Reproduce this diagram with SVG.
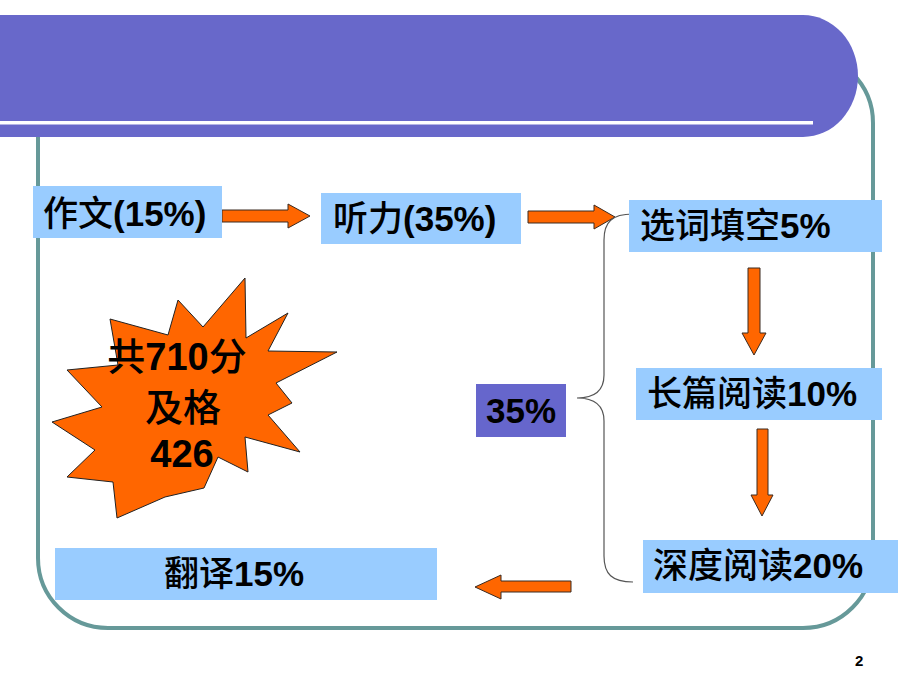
<svg xmlns="http://www.w3.org/2000/svg" width="920" height="690" viewBox="0 0 920 690">
<style>
.box{fill:#99CCFF;}
.pbox{fill:#6666CC;}
.t{font-family:"Liberation Sans","Noto Sans CJK SC",sans-serif;font-weight:bold;font-size:35px;fill:#000;}
.cj{font-family:"Noto Sans CJK SC",sans-serif;font-weight:500;}
.arr{fill:#FF6600;stroke:#3a2a20;stroke-width:1;}
.brace{fill:none;stroke:#555;stroke-width:1.2;}
</style>
<rect width="920" height="690" fill="#fff"/>
<!-- frame -->
<rect id="frame" x="38" y="53" width="835" height="575" rx="70" ry="70" fill="none" stroke="#669999" stroke-width="4"/>
<!-- banner -->
<g id="banner">
<path d="M0,15 H803 A55,61 0 0 1 803,137 H0 Z" fill="#6868CA"/>
<rect x="0" y="121" width="813" height="3.5" fill="#fff"/>
</g>
<g id="connectors">
<polygon class="arr" points="222,210 288,210 288,204 310,216 288,228 288,222 222,222"/>
<polygon class="arr" points="528,211 594,211 594,205 615,217 594,229 594,223 528,223"/>
<polygon class="arr" points="748,268 760,268 760,333 766,333 754,355 742,333 748,333"/>
<polygon class="arr" points="757,429 768,429 768,495 773,495 762,516 751,495 757,495"/>
<polygon class="arr" points="571,581 501,581 501,575 475,587 501,599 501,592 571,592"/>
<path class="brace" d="M633,214 C612,214 604,222 604,240 L604,375 C604,390 596,398 577,398 C596,398 604,406 604,421 L604,556 C604,574 612,582 633,582"/>
</g>
<g id="n-zuowen">
<rect class="box" x="33" y="186" width="189" height="52"/>
<text class="t" x="43" y="226"><tspan class="cj">作文</tspan>(15%)</text>
</g>
<g id="n-tingli">
<rect class="box" x="321" y="193" width="200" height="51"/>
<text class="t" x="333" y="231"><tspan class="cj">听力</tspan>(35%)</text>
</g>
<g id="n-xuanci">
<rect class="box" x="629" y="200" width="253" height="52"/>
<text class="t" x="640" y="238"><tspan class="cj">选词填空</tspan>5%</text>
</g>
<g id="n-changpian">
<rect class="box" x="636" y="368" width="246" height="52"/>
<text class="t" x="647" y="406"><tspan class="cj">长篇阅读</tspan>10%</text>
</g>
<g id="n-shendu">
<rect class="box" x="643" y="540" width="255" height="53"/>
<text class="t" x="653" y="578"><tspan class="cj">深度阅读</tspan>20%</text>
</g>
<g id="n-fanyi">
<rect class="box" x="55" y="548" width="382" height="52"/>
<text class="t" x="164" y="586"><tspan class="cj">翻译</tspan>15%</text>
</g>
<g id="n-35">
<rect class="pbox" x="476" y="384" width="90" height="53"/>
<text class="t" x="521" y="423" text-anchor="middle">35%</text>
</g>
<g id="n-star">
<polygon fill="#FF6600" stroke="#222" stroke-width="1" points="245,278 246,338 288,313 268,351 337,352 276,383 292,403 268,415 300,452 245,437 248,472 218,457 204,488 165,497 117,518 113,482 67,477 95,450 52,422 102,407 67,370 118,365 110,319 168,335 178,300 203,327"/>
<text class="t" style="font-size:38px" x="177" y="370" text-anchor="middle"><tspan class="cj">共</tspan>710<tspan class="cj">分</tspan></text>
<text class="t cj" style="font-size:38px" x="183" y="421" text-anchor="middle">及格</text>
<text class="t" style="font-size:38px" x="182" y="467" text-anchor="middle">426</text>
</g>
<text class="t" style="font-size:15px" x="855" y="666">2</text>
</svg>
